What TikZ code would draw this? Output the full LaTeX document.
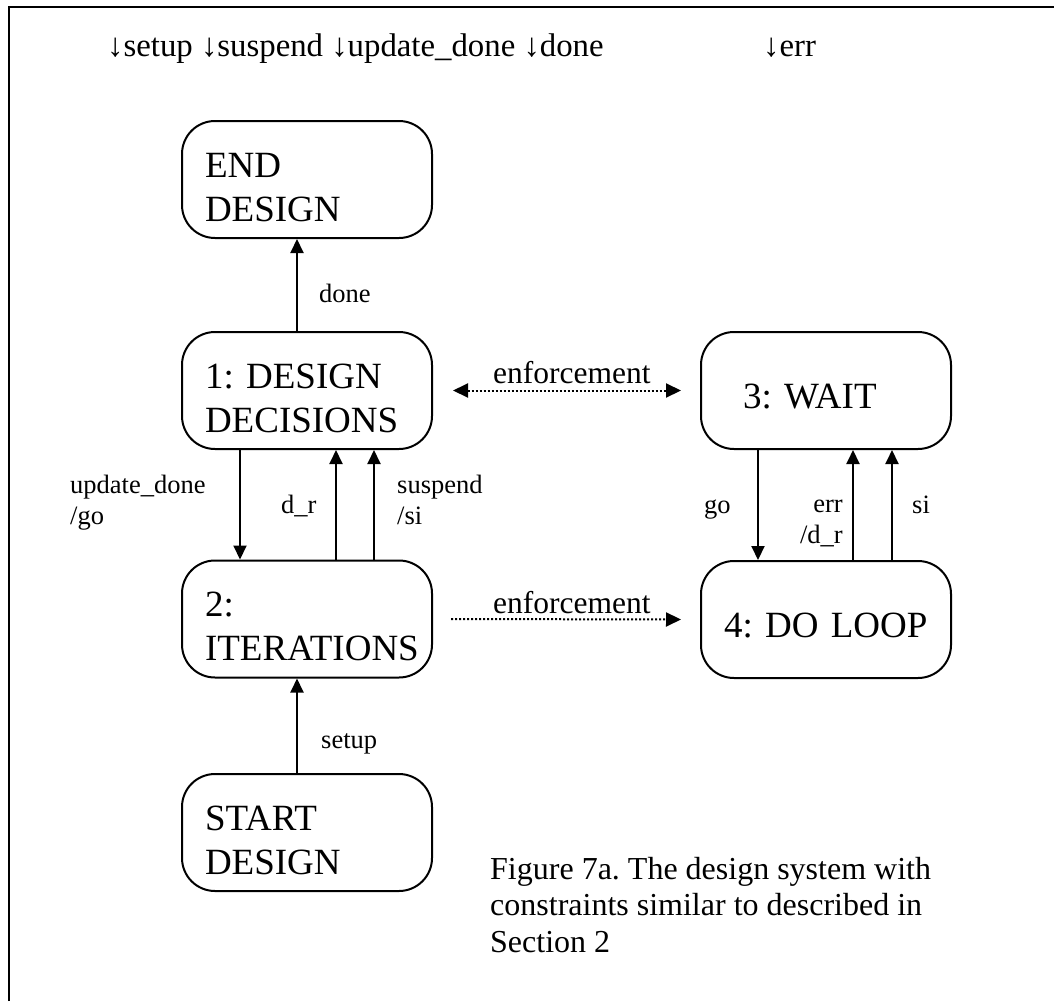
\documentclass[tikz,border=0pt]{standalone}
\usepackage{fontspec}
\setmainfont{Liberation Serif}
\frenchspacing
\usetikzlibrary{arrows.meta}
\begin{document}
\begin{tikzpicture}[x=1pt,y=-1pt,
  statebox/.style={draw, line width=2pt, rounded corners=33pt,
    minimum width=250pt, minimum height=117pt, inner sep=0pt,
    text width=204pt, align=left, font=\fontsize{37}{44}\selectfont\frenchspacing},
  twoline/.style={text height=39pt, text depth=44pt},
  oneline/.style={text height=35pt, text depth=0pt},
  lbl/.style={inner sep=0pt, font=\fontsize{26.5}{31}\selectfont\frenchspacing},
  trans/.style={line width=2pt, -{Triangle[length=14pt,width=13pt]}},
  enf/.style={line width=2pt, dotted, {Triangle[length=15pt,width=14pt]}-{Triangle[length=15pt,width=14pt]}},
  enfone/.style={line width=2pt, dotted, -{Triangle[length=15pt,width=14pt]}}
]
\useasboundingbox (0,0) rectangle (1054,1001);
% frame (top and left edges)
\coordinate (fa) at (9,1001);
\coordinate (fb) at (9,7);
\coordinate (fc) at (1054,7);
\draw[line width=2pt] (fa) -- (fb) -- (fc);

% top row
\node[inner sep=0pt, anchor=base west, font=\fontsize{32.8}{38}\selectfont] (evs) at (107,56) {↓setup ↓suspend ↓update\_done ↓done};
\node[inner sep=0pt, anchor=base west, font=\fontsize{32.8}{38}\selectfont] (everr) at (763,56) {↓err};

% states
\node[statebox, twoline] (end) at (307,179.5) {END\\DESIGN};
\node[statebox, twoline] (dd) at (307,390.5) {1: DESIGN\\DECISIONS};
\node[statebox, twoline] (it) at (307,619) {2:\\ITERATIONS};
\node[statebox, twoline] (start) at (307,832.5) {START\\DESIGN};
\node[statebox, oneline] (wait) at (826,390.5) {\hspace*{19pt}3: WAIT};
\node[statebox, oneline] (loop) at (826,619.5) {\mbox{4: DO LOOP}};

% transitions
\draw[trans] ([xshift=-10pt]dd.north) -- ([xshift=-10pt]end.south);
\draw[trans] ([xshift=-10pt]start.north) -- ([xshift=-10pt]it.south);
\draw[trans] ([xshift=-67pt]dd.south) -- ([xshift=-67pt]it.north);
\draw[trans] ([xshift=29pt]it.north) -- ([xshift=29pt]dd.south);
\draw[trans] ([xshift=67pt]it.north) -- ([xshift=67pt]dd.south);
\draw[trans] ([xshift=-68pt]wait.south) -- ([xshift=-68pt]loop.north);
\draw[trans] ([xshift=27pt]loop.north) -- ([xshift=27pt]wait.south);
\draw[trans] ([xshift=66pt]loop.north) -- ([xshift=66pt]wait.south);

\draw[enf] ([xshift=20pt]dd.east) -- ([xshift=-19pt]wait.west);
\draw[enfone] ([xshift=18pt]it.east) -- ([xshift=-19pt]loop.west);

% labels
\node[lbl, anchor=base west] (ldone) at (319,302) {done};
\node[lbl, anchor=base west] (lsetup) at (321,748) {setup};
\node[lbl, anchor=base west, align=left] (lupd) at (70,524) {update\_done\\/go};
\node[lbl, anchor=base west] (ldr) at (281,513) {d\_r};
\node[lbl, anchor=base west, align=left] (lsus) at (397,524) {suspend\\/si};
\node[lbl, anchor=base west] (lgo) at (704,513) {go};
\node[lbl, anchor=base east, align=right] (lerr) at (843,543) {err\\/d\_r};
\node[lbl, anchor=base west] (lsi) at (912,513) {si};
\node[inner sep=0pt, anchor=base west, font=\fontsize{31.5}{36}\selectfont] (enf1) at (493,383) {enforcement};
\node[inner sep=0pt, anchor=base west, font=\fontsize{31.5}{36}\selectfont] (enf2) at (493,613) {enforcement};

% caption
\node[inner sep=0pt, anchor=base west, align=left, font=\fontsize{32}{36.5}\selectfont\frenchspacing] (cap) at (490,952) {Figure 7a. The design system with\\constraints similar to described in\\Section 2};
\end{tikzpicture}
\end{document}
